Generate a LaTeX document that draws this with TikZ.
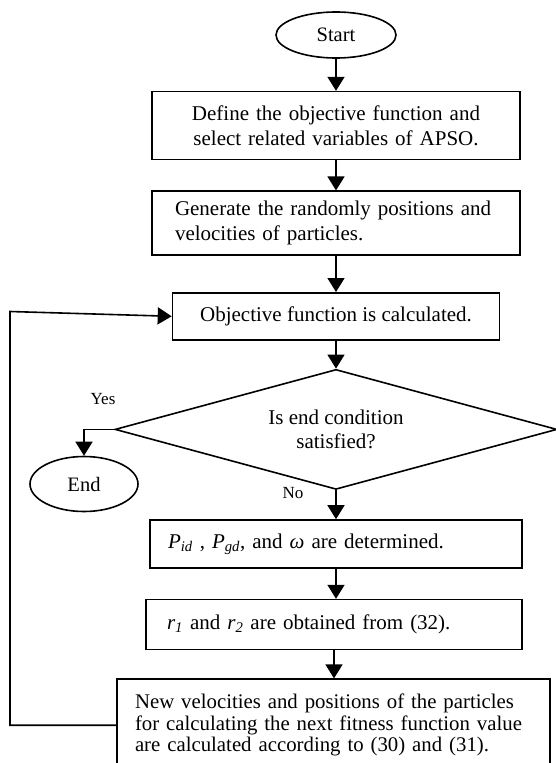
\documentclass[tikz,border=0pt]{standalone}
\usepackage{fontspec}
\setmainfont{Liberation Serif}
\usetikzlibrary{arrows.meta,shapes.geometric,positioning}

\begin{document}
\begin{tikzpicture}[
    > = {Triangle[length=14pt,width=17pt]}, % arrow head style
    x = 1pt, y = 1pt,
    node distance = 30pt, % distance between nodes
    line width = 1.6pt % line style
    ]

    \tikzset{
    process/.style = {draw = black, rectangle, inner ysep = 0pt,
        font = \fontsize{21}{25}\selectfont},
    terminal/.style = {draw = black, ellipse, inner sep = 0pt,
        font = \fontsize{20.5}{24}\selectfont},
    decision/.style = {draw = black, diamond, aspect = 3.68, inner sep = 0pt,
        minimum width = 442pt, minimum height = 120pt, align = center,
        font = \fontsize{21}{24}\selectfont},
    branch/.style = {font = \fontsize{17}{20}\selectfont}
    }
    \useasboundingbox (0,0) rectangle (555,-763);

    \node[terminal, minimum width = 120pt, minimum height = 46pt] (start) at (336,-35) {Start};
    \node[process, text width = 368pt, inner xsep = 0pt, align = center, minimum height = 68pt]
        (define) [below = 32pt of start] {Define the objective function and\\select related variables of APSO.};
    \node[process, text width = 322pt, inner xsep = 23pt, align = left, minimum height = 64pt]
        (generate) [below = of define] {Generate the randomly positions and\\velocities of particles.};
    \node[process, minimum width = 327pt, minimum height = 47pt]
        (objective) [below = 36pt of generate] {Objective function is calculated.};
    \node[decision] (cond) [below = 28pt of objective] {Is end condition\\satisfied?};
    \node[terminal, minimum width = 108pt, minimum height = 55pt] (finish) at (84,-484) {End};
    \node[process, text width = 336pt, inner xsep = 18pt, align = left, minimum height = 48pt]
        (pbest) [below = 29pt of cond]
        {\textit{P}\textsubscript{\textit{id}} , \textit{P}\textsubscript{\textit{gd}}, and \textit{ω} are determined.};
    \node[process, text width = 334pt, inner xsep = 21pt, align = left, minimum height = 50pt]
        (random) [below = of pbest, xshift = -2pt]
        {\textit{r}\textsubscript{\textit{1}} and \textit{r}\textsubscript{\textit{2}} are obtained from (32).};
    \node[process, text width = 397pt, inner xsep = 18pt, align = left, minimum height = 92pt,
        font = \fontsize{20.8}{21.5}\selectfont]
        (update) [below = 28pt of random, xshift = -0.5pt]
        {New velocities and positions of the particles\\for calculating the next fitness function value\\are calculated according to (30) and (31).};

    \node[branch] (yes) at (103,-399) {Yes};
    \node[branch] (no) at (293,-493) {No};
    \coordinate (loop) at (10,-311.5);

    \path[->] (start) edge (define);
    \path[->] (define) edge (generate);
    \path[->] (generate) edge (objective);
    \path[->] (objective) edge (cond);
    \path[->] (cond) edge (pbest);
    \path[->] (pbest) edge (pbest |- random.north);
    \path[->] (random) edge (random |- update.north);
    \draw[->] (cond.west) -| (finish.north);
    \draw[->] (update.west) -| (loop) -- (objective.west);
\end{tikzpicture}
\end{document}
